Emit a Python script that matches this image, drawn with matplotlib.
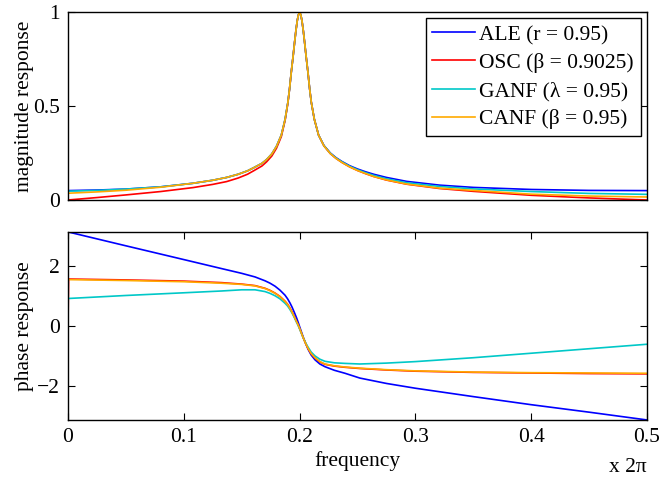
import numpy as np
import matplotlib.pyplot as plt

plt.rcParams['font.family'] = ['Liberation Serif', 'DejaVu Serif']

labels = ['ALE (r = 0.95)', 'OSC (\u03b2 = 0.9025)', 'GANF (\u03bb = 0.95)', 'CANF (\u03b2 = 0.95)']
colors = ['#0000ff', '#ff0000', '#00c8c8', '#ffaa00']

# magnitude response
f_mag = [0, 0.025, 0.05, 0.08, 0.108, 0.125, 0.137, 0.147, 0.155, 0.1605,
         0.1675, 0.1715, 0.176, 0.18, 0.1842, 0.1875, 0.1899, 0.1913, 0.1928, 0.1943,
         0.1957, 0.1968, 0.198, 0.199, 0.2,
         0.201, 0.202, 0.2032, 0.2043, 0.2057, 0.2072, 0.2087, 0.2101, 0.2127, 0.2164,
         0.221, 0.2265, 0.2315, 0.2365, 0.243, 0.25, 0.257, 0.264, 0.275, 0.2925,
         0.321, 0.35, 0.4, 0.45, 0.5]
mag_ale = [0.050, 0.053, 0.058, 0.070, 0.089, 0.105, 0.120, 0.137, 0.155, 0.172,
           0.195, 0.215, 0.245, 0.285, 0.345, 0.430, 0.520, 0.590, 0.680, 0.760,
           0.840, 0.900, 0.955, 0.985, 1.0,
           0.985, 0.955, 0.900, 0.840, 0.760, 0.680, 0.590, 0.520, 0.430, 0.345,
           0.290, 0.250, 0.225, 0.205, 0.183, 0.165, 0.150, 0.137, 0.120, 0.099,
           0.079, 0.067, 0.056, 0.051, 0.050]
mag_osc = [0.0, 0.013, 0.027, 0.045, 0.066, 0.083, 0.098, 0.117, 0.137, 0.156,
           0.181, 0.203, 0.234, 0.275, 0.337, 0.424, 0.516, 0.590, 0.680, 0.760,
           0.840, 0.900, 0.955, 0.985, 1.0,
           0.985, 0.955, 0.900, 0.840, 0.760, 0.680, 0.590, 0.520, 0.430, 0.345,
           0.288, 0.247, 0.221, 0.200, 0.177, 0.157, 0.140, 0.125, 0.106, 0.084,
           0.061, 0.046, 0.025, 0.011, 0.0]
mag_ganf = [0.047, 0.051, 0.058, 0.070, 0.089, 0.105, 0.120, 0.137, 0.155, 0.172,
            0.195, 0.215, 0.245, 0.285, 0.345, 0.430, 0.520, 0.590, 0.680, 0.760,
            0.840, 0.900, 0.955, 0.985, 1.0,
            0.985, 0.955, 0.900, 0.840, 0.760, 0.680, 0.590, 0.520, 0.430, 0.345,
            0.289, 0.249, 0.223, 0.203, 0.180, 0.161, 0.145, 0.131, 0.113, 0.092,
            0.072, 0.059, 0.045, 0.035, 0.030]
mag_canf = [0.036, 0.043, 0.052, 0.068, 0.089, 0.105, 0.120, 0.137, 0.155, 0.172,
            0.195, 0.215, 0.245, 0.285, 0.345, 0.430, 0.520, 0.590, 0.680, 0.760,
            0.840, 0.900, 0.955, 0.985, 1.0,
            0.985, 0.955, 0.900, 0.840, 0.760, 0.680, 0.590, 0.520, 0.430, 0.345,
            0.288, 0.247, 0.221, 0.200, 0.177, 0.157, 0.141, 0.125, 0.107, 0.085,
            0.063, 0.051, 0.031, 0.021, 0.016]

# phase response
f_ph = [0, 0.0005, 0.05, 0.1, 0.1325, 0.15, 0.1615, 0.1702, 0.1745, 0.1788,
        0.183, 0.1874, 0.1896, 0.1917, 0.1935, 0.1955, 0.1974, 0.1987, 0.2, 0.2016,
        0.2032, 0.2054, 0.2075, 0.21, 0.2133, 0.2175, 0.2219, 0.23, 0.2392, 0.252,
        0.275, 0.3, 0.35, 0.4, 0.45, 0.5]
ph_ale = [3.14, 3.14, 2.68, 2.22, 1.92, 1.76, 1.64, 1.51, 1.43, 1.33,
          1.20, 1.03, 0.91, 0.77, 0.63, 0.45, 0.27, 0.13, -0.02, -0.20,
          -0.38, -0.60, -0.79, -0.97, -1.13, -1.27, -1.36, -1.48, -1.58, -1.74,
          -1.92, -2.08, -2.36, -2.63, -2.88, -3.14]
ph_osc = [0.0, 1.57, 1.54, 1.50, 1.45, 1.40, 1.35, 1.26, 1.19, 1.10,
          0.99, 0.83, 0.73, 0.60, 0.47, 0.31, 0.15, 0.05, -0.08, -0.24,
          -0.40, -0.60, -0.77, -0.93, -1.07, -1.20, -1.28, -1.34, -1.38, -1.42,
          -1.47, -1.51, -1.55, -1.57, -1.59, -1.60]
ph_ganf = [0.92, 0.92, 1.02, 1.11, 1.17, 1.21, 1.21, 1.15, 1.09, 1.01,
           0.91, 0.76, 0.67, 0.55, 0.43, 0.28, 0.12, 0.02, -0.10, -0.25,
           -0.40, -0.58, -0.72, -0.87, -1.00, -1.11, -1.18, -1.23, -1.25, -1.27,
           -1.24, -1.19, -1.06, -0.91, -0.76, -0.61]
ph_canf = [1.55, 1.55, 1.52, 1.48, 1.43, 1.39, 1.34, 1.25, 1.18, 1.09,
           0.98, 0.82, 0.72, 0.59, 0.46, 0.30, 0.14, 0.04, -0.08, -0.24,
           -0.40, -0.60, -0.76, -0.92, -1.06, -1.19, -1.27, -1.33, -1.37, -1.41,
           -1.46, -1.50, -1.54, -1.56, -1.57, -1.58]

mags = [mag_ale, mag_osc, mag_ganf, mag_canf]
phases = [ph_ale, ph_osc, ph_ganf, ph_canf]

fig = plt.figure(figsize=(6.61, 4.79), dpi=100)
ax1 = fig.add_axes([68/661, 1 - 200/479, 579/661, 188/479])
ax2 = fig.add_axes([68/661, 1 - 420/479, 579/661, 188/479])

fs = 15.5
for i in range(4):
    ax1.plot(f_mag, mags[i], color=colors[i], lw=1.2, label=labels[i])
    ax2.plot(f_ph, phases[i], color=colors[i], lw=1.2)

for ax in (ax1, ax2):
    ax.set_xlim(0, 0.5)
    ax.tick_params(direction='in', top=True, right=True, length=5, width=0.8,
                   labelsize=fs, pad=6)
    for s in ax.spines.values():
        s.set_linewidth(1.0)

ax1.set_ylim(0, 1)
ax1.set_yticks([0, 0.5, 1])
ax1.set_yticklabels(['0', '0.5', '1'])
ax1.set_xticks([])
ax1.set_ylabel('magnitude response', fontsize=fs)
ax1.yaxis.set_label_coords(-0.058, 0.5)

ax2.set_ylim(-np.pi, np.pi)
ax2.set_yticks([-2, 0, 2])
ax2.set_xticks([0, 0.1, 0.2, 0.3, 0.4, 0.5])
ax2.set_xticklabels(['0', '0.1', '0.2', '0.3', '0.4', '0.5'])
ax2.set_ylabel('phase response', fontsize=fs)
ax2.yaxis.set_label_coords(-0.058, 0.5)
ax2.set_xlabel('frequency', fontsize=fs, labelpad=3)
ax2.text(1.0, -0.255, 'x 2\u03c0', transform=ax2.transAxes, ha='right', va='center', fontsize=fs)

leg = ax1.legend(loc='upper right', fontsize=fs, frameon=True, fancybox=False,
                 edgecolor='black', framealpha=1, borderaxespad=0.3,
                 handlelength=2.0, handletextpad=0.2, labelspacing=0.37, borderpad=0.3)
leg.get_frame().set_linewidth(1.0)

fig.savefig('out.png', dpi=100)
